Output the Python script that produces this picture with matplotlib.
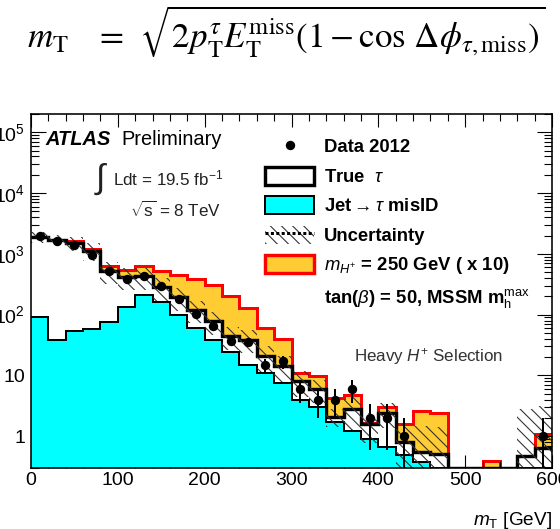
import numpy as np
import matplotlib
matplotlib.use("Agg")
import matplotlib.pyplot as plt
from matplotlib.patches import Patch
from matplotlib.lines import Line2D
from matplotlib.legend_handler import HandlerTuple
from matplotlib.ticker import LogLocator, FuncFormatter, MultipleLocator, NullFormatter

plt.rcParams["font.family"] = ["Liberation Sans", "DejaVu Sans"]
plt.rcParams["mathtext.fontset"] = "custom"
plt.rcParams["mathtext.rm"] = "Liberation Sans"
plt.rcParams["mathtext.it"] = "Liberation Sans:italic"
plt.rcParams["mathtext.bf"] = "Liberation Sans:bold"

# ---- histogram contents, 20 GeV bins from 0 to 600 GeV ----
bin_edges = np.arange(0, 601, 20)
jet_misid = np.array([90, 39, 53, 57, 75, 134, 213, 159, 100, 60,
                      39, 24, 15, 11, 7.5, 4.0, 3.0, 1.7, 1.2, 0.9,
                      0.66, 0.5, 0.37, 0, 0, 0, 0, 0, 0, 0])
true_tau = np.array([1810, 1661, 1447, 1073, 455, 281, 212, 125, 97, 61,
                     39, 20, 24, 9.7, 6.7, 4.1, 2.9, 0.4, 1.65, 0.67,
                     1.78, 0.29, 0.18, 0.51, 0, 0, 0, 0, 0.475, 0.65])
signal_x10 = np.array([3, 12, 120, 75, 113, 132, 195, 248, 250, 264,
                       233, 156, 90, 40, 25, 2.9, 3.8, 2.2, 1.9, 0.11,
                       0.63, 0.82, 2.05, 1.93, 0, 0, 0.39, 0, 0, 0.43])
bkg_unc = np.array([380, 340, 400, 380, 210, 165, 170, 115, 80, 48,
                    31, 18, 16, 9.3, 6.4, 3.6, 2.4, 0.7, 1.6, 0.8,
                    1.1, 0.8, 0.9, 0.9, 0, 0, 0, 0, 2.3, 2.5])
data_counts = np.array([1950, 1650, 1400, 960, 530, 390, 425, 300, 183, 104,
                        66, 37, 35, 15, 17, 6, 4, 4, 6, 2,
                        2, 1, 0, 0, 0, 0, 0, 0, 0, 1])

legend_labels = ["Data 2012", r"True  $\tau$", r"Jet$\rightarrow\tau$ misID",
                 "Uncertainty", r"$m_{H^{+}}$ = 250 GeV ( x 10)",
                 r"tan($\beta$) = 50, MSSM m$_{\mathrm{h}}^{\mathrm{max}}$"]

W, H, DPI = 560, 529, 100
PT = 72 / DPI          # points per pixel


def px(v):
    return v * PT


plt.rcParams["hatch.linewidth"] = px(1.1)
HATCH = "\\" * 3

fig = plt.figure(figsize=(W / DPI, H / DPI), dpi=DPI)
L, R, T, B = 31, 552, 114, 468
ax = fig.add_axes([L / W, 1 - B / H, (R - L) / W, (B - T) / H])
ax.set_yscale("log")
ymin, ymax = 0.3, 2e5
floor = 1e-3
ax.set_xlim(0, 600)
ax.set_ylim(ymin, ymax)


def fx(p):
    return p / W


def fy(p):
    return 1 - p / H


total_bkg = jet_misid + true_tau
stack_top = total_bkg + signal_x10


def vis(v):
    return np.clip(v, ymin, None)


# stacked histograms: fills first, then the outlines
ax.stairs(vis(stack_top), bin_edges, baseline=floor, fill=True, color="#FFCC33", zorder=1)
ax.stairs(vis(stack_top), bin_edges, baseline=None, color="#FF0000", lw=px(3), zorder=1.1)
ax.stairs(vis(total_bkg), bin_edges, baseline=floor, fill=True, color="white", zorder=2)
ax.stairs(vis(total_bkg), bin_edges, baseline=None, color="black", lw=px(3.4), zorder=2.1)
ax.stairs(vis(jet_misid), bin_edges, baseline=floor, fill=True, color="#00FFFF", zorder=3)
ax.stairs(vis(jet_misid), bin_edges, baseline=None, color="black", lw=px(2), zorder=3.1)

# background uncertainty band
upper = np.clip(total_bkg + bkg_unc, floor, None)
lower = np.clip(total_bkg - bkg_unc, floor, None)
ax.stairs(upper, bin_edges, baseline=lower, fill=True, facecolor="none",
          edgecolor="#333333", hatch=HATCH, linewidth=0, zorder=4)

# data with Poisson errors
centers = 0.5 * (bin_edges[:-1] + bin_edges[1:])
mask = data_counts > 0
err = np.sqrt(data_counts)
err_lo = np.minimum(err, data_counts - floor)
ax.errorbar(centers[mask], data_counts[mask], yerr=[err_lo[mask], err[mask]],
            fmt="o", color="black", ms=px(8), elinewidth=px(2), capsize=0, zorder=5)

# axes styling
for s in ax.spines.values():
    s.set_linewidth(px(1.6))
    s.set_zorder(6)
ax.xaxis.set_major_locator(MultipleLocator(100))
ax.xaxis.set_minor_locator(MultipleLocator(20))
ax.yaxis.set_major_locator(LogLocator(base=10, numticks=20))
ax.yaxis.set_minor_locator(LogLocator(base=10, subs=np.arange(2, 10), numticks=20))
ax.yaxis.set_minor_formatter(NullFormatter())


def ylab(v, pos):
    if np.isclose(v, 1):
        return "1"
    if np.isclose(v, 10):
        return "10"
    return r"$10^{%d}$" % round(np.log10(v))


ax.yaxis.set_major_formatter(FuncFormatter(ylab))
ax.tick_params(which="both", direction="in", top=True, right=True, width=px(1.1))
ax.tick_params(axis="y", which="major", length=px(15), labelsize=px(19.5), pad=px(6))
ax.tick_params(axis="y", which="minor", length=px(8))
ax.tick_params(axis="x", which="major", length=px(13), labelsize=px(19.5), pad=px(4))
ax.tick_params(axis="x", which="minor", length=px(7))
ax.set_xlabel(r"$m_{\mathrm{T}}$ [GeV]", fontsize=px(19), loc="right", labelpad=px(21))

# legend
h_data = Line2D([], [], marker="o", ls="none", color="black", ms=px(8))
h_true = Patch(facecolor="white", edgecolor="black", lw=px(3.4))
h_jet = Patch(facecolor="#00FFFF", edgecolor="black", lw=px(2))
h_unc = (Patch(facecolor="white", edgecolor="#333333", hatch=HATCH, lw=0),
         Line2D([], [], color="black", ls=(0, (1, 0.8)), lw=px(3)))
h_sig = Patch(facecolor="#FFCC33", edgecolor="#FF0000", lw=px(3.4))
h_blank = Patch(facecolor="none", edgecolor="none")
fs = px(18.5)
ax.legend([h_data, h_true, h_jet, h_unc, h_sig, h_blank], legend_labels,
          loc="upper left", bbox_to_anchor=(fx(265), fy(137)),
          bbox_transform=fig.transFigure, frameon=False,
          prop={"weight": "bold", "size": fs},
          handlelength=2.65, handleheight=1.13, handletextpad=0.55,
          labelspacing=0.55, borderpad=0, borderaxespad=0,
          handler_map={tuple: HandlerTuple(ndivide=1, pad=0)})

# labels
fig.text(fx(45), fy(145), "ATLAS", weight="bold", style="italic", size=px(20), va="baseline")
fig.text(fx(121), fy(145), "Preliminary", size=px(20), va="baseline")
fig.text(fx(96), fy(179), "\u222b", size=px(34), va="center", color="#222222")
fig.text(fx(113), fy(185), r"Ldt = 19.5 fb$^{\mathrm{-1}}$", size=px(17), va="baseline", color="#222222")
fig.text(fx(130), fy(217), r"$\sqrt{\mathrm{s}}$ = 8 TeV", size=px(17), va="baseline", color="#222222")
fig.text(fx(354), fy(361), r"Heavy $H^{+}$ Selection", size=px(17), va="baseline", color="#333333")

# transverse mass definition
fig.text(fx(27), fy(48),
         r"$m_{\mathrm{T}}\ \ \ =\;\,\sqrt{2p_{\mathrm{T}}^{\tau}E_{\mathrm{T}}^{\mathrm{miss}}(1-\cos\,\Delta\phi_{\tau,\mathrm{miss}})}$",
         fontsize=px(35), math_fontfamily="stix", ha="left", va="baseline")

fig.savefig("out.png", dpi=DPI)
